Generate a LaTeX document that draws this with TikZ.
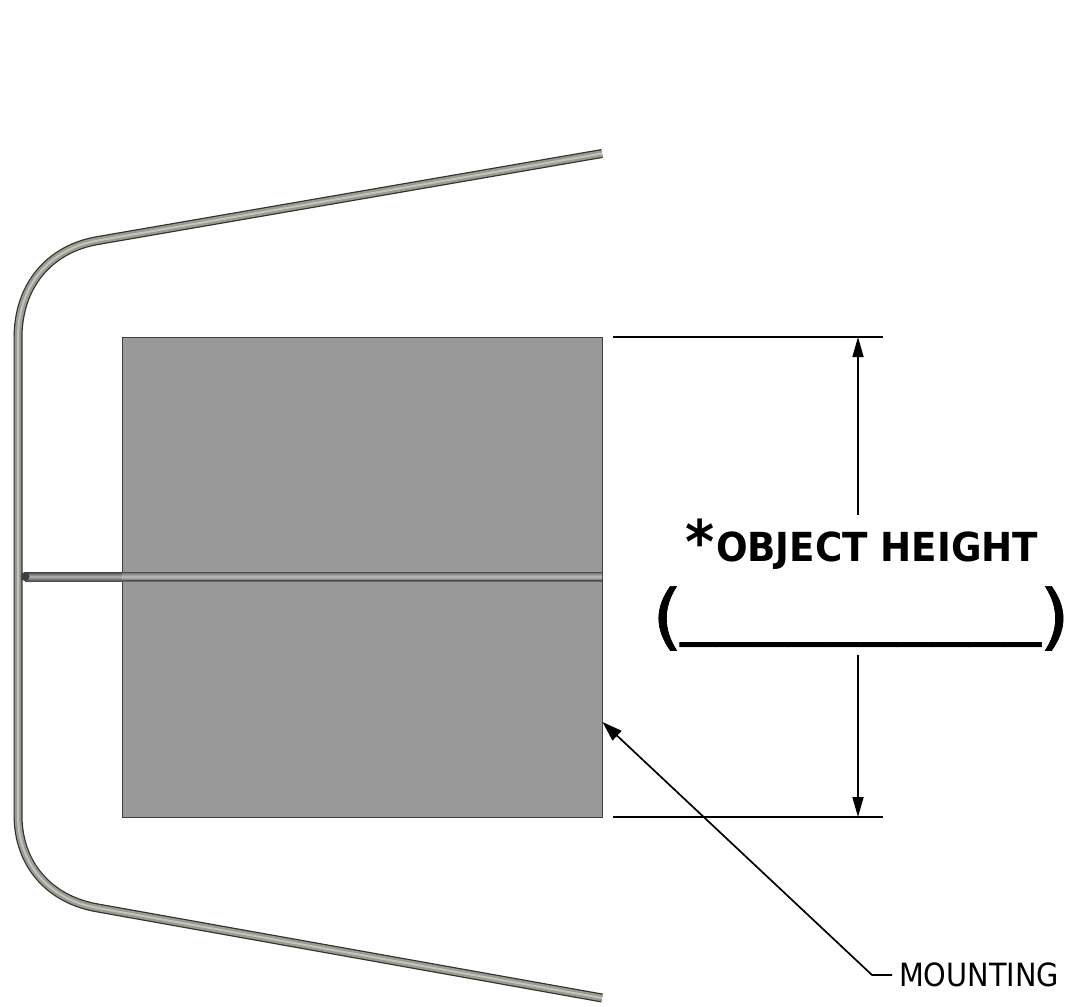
\documentclass[tikz,border=0pt]{standalone}
\usepackage{fontspec}
\setmainfont{DejaVu Sans}
\newfontfamily\narrowfont[FakeStretch=0.9]{DejaVu Sans}
\newfontfamily\narrowbold[FakeStretch=0.93]{DejaVu Sans Bold}
\newfontfamily\parenfont[FakeStretch=1.1,FakeBold=1]{DejaVu Sans}
\usetikzlibrary{arrows.meta}
\definecolor{platefill}{HTML}{999999}
\definecolor{tubedark}{HTML}{2E2E2A}
\definecolor{tubemid}{HTML}{9A9A92}
\definecolor{tubelight}{HTML}{C4C4BA}
\tikzset{
  dimline/.style={line width=1.7pt,black},
  dimarrow/.style={line width=1.7pt,black,-{Triangle[length=20pt,width=11pt]}},
  flat/.style={inner sep=0pt,outer sep=0pt,anchor=base west},
}
\newcommand{\tubepath}{(602,153.5) -- (98,240.5) .. controls (50,248.5) and (18,285) .. (18,338) -- (18,815) .. controls (18,865) and (50,900) .. (98,908) -- (602,998)}
\begin{document}
\begin{tikzpicture}[x=1pt,y=-1pt]
\useasboundingbox (0,0) rectangle (1069,1007);
% bent tube
\draw[tubedark,line width=9pt] \tubepath;
\draw[tubemid,line width=6.6pt] \tubepath;
\draw[tubelight,line width=2pt] \tubepath;
% plate
\node[draw=black!75,fill=platefill,line width=1pt,minimum width=480pt,minimum height=480pt,inner sep=0pt,outer sep=0pt] (plate) at (362,577) {};
% cross rod
\shade[top color=black!75,bottom color=black!70,middle color=black!30] (25,572) rectangle (122,581);
\shade[top color=black!60,bottom color=black!60,middle color=black!25] (122,572) rectangle (602,581);
\draw[black!70,line width=1pt] (122,572.5) -- (602,572.5) (122,580.5) -- (602,580.5);
\fill[black!75] (25,576.5) circle (4.5pt);
% extension lines
\coordinate (topL) at (613,337);
\coordinate (topR) at (883,337);
\coordinate (botL) at (613,817);
\coordinate (botR) at (883,817);
\coordinate (topTip) at (858,337);
\coordinate (botTip) at (858,817);
\coordinate (upStart) at (858,515);
\coordinate (downStart) at (858,655);
\draw[dimline] (topL) -- (topR);
\draw[dimline] (botL) -- (botR);
\draw[dimarrow] (upStart) -- (topTip);
\draw[dimarrow] (downStart) -- (botTip);
% labels
\node[flat] (star) at (685,563) {\narrowbold\fontsize{60}{60}\selectfont *};
\node[flat] (objh) at (716,561) {\narrowbold\fontsize{40}{40}\selectfont OBJECT HEIGHT};
\node[flat] (lparen) at (652,641) {\parenfont\fontsize{72}{72}\selectfont (};
\node[flat] (rparen) at (1039,641) {\parenfont\fontsize{72}{72}\selectfont )};
\node[flat] (blank) at (680,630) {\fontsize{72.4}{72}\selectfont \_\_\_\_\_\_\_\_\_\_};
\node[flat] (mount) at (899,986) {\narrowfont\fontsize{32}{32}\selectfont MOUNTING};
% leader
\coordinate (leadTip) at (602.5,722);
\coordinate (elbow) at (872,975);
\coordinate (leadEnd) at (892,975);
\draw[dimline,{Triangle[length=20pt,width=13pt]}-] (leadTip) -- (elbow) -- (leadEnd);
\end{tikzpicture}
\end{document}
